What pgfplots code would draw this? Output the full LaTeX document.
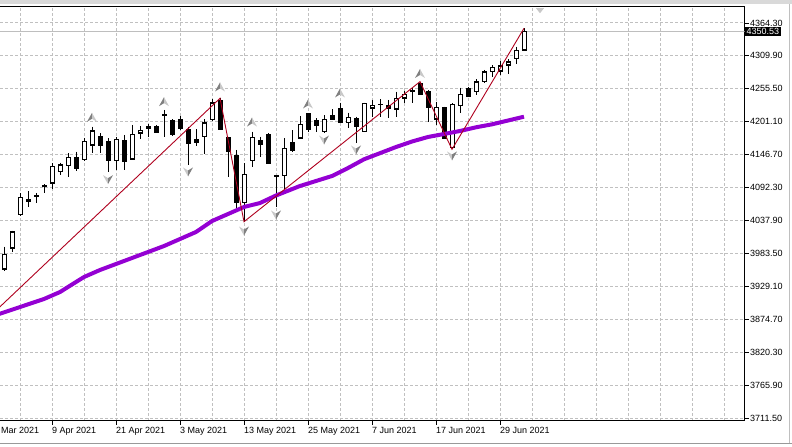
\documentclass[border=0pt]{standalone}
\usepackage{fontspec}
\setmainfont{Liberation Sans}
\usepackage{pgfplots}
\pgfplotsset{compat=1.18}
\usepackage{pgfplotstable}

\definecolor{gridgray}{RGB}{192,192,192}
\definecolor{mavio}{RGB}{148,0,211}
\definecolor{zzred}{RGB}{175,0,30}
\definecolor{fracdark}{RGB}{128,128,128}
\definecolor{fraclight}{RGB}{200,200,200}
\definecolor{bidgray}{RGB}{190,190,190}

\pgfdeclareplotmark{fup}{%
  \pgfpathmoveto{\pgfqpoint{0pt}{4.5pt}}%
  \pgfpathlineto{\pgfqpoint{-5pt}{-4.5pt}}%
  \pgfpathlineto{\pgfqpoint{0pt}{-1.5pt}}%
  \pgfpathclose
  \pgfsetfillcolor{fracdark}\pgfusepath{fill}%
  \pgfpathmoveto{\pgfqpoint{0pt}{4.5pt}}%
  \pgfpathlineto{\pgfqpoint{5pt}{-4.5pt}}%
  \pgfpathlineto{\pgfqpoint{0pt}{-1.5pt}}%
  \pgfpathclose
  \pgfsetfillcolor{fraclight}\pgfusepath{fill}%
}
\pgfdeclareplotmark{fdown}{%
  \pgfpathmoveto{\pgfqpoint{0pt}{-4.5pt}}%
  \pgfpathlineto{\pgfqpoint{-5pt}{4.5pt}}%
  \pgfpathlineto{\pgfqpoint{0pt}{1.5pt}}%
  \pgfpathclose
  \pgfsetfillcolor{fraclight}\pgfusepath{fill}%
  \pgfpathmoveto{\pgfqpoint{0pt}{-4.5pt}}%
  \pgfpathlineto{\pgfqpoint{5pt}{4.5pt}}%
  \pgfpathlineto{\pgfqpoint{0pt}{1.5pt}}%
  \pgfpathclose
  \pgfsetfillcolor{fracdark}\pgfusepath{fill}%
}
\pgfdeclareplotmark{shiftmark}{%
  \pgfpathmoveto{\pgfqpoint{-4pt}{2.5pt}}%
  \pgfpathlineto{\pgfqpoint{4pt}{2.5pt}}%
  \pgfpathlineto{\pgfqpoint{0pt}{-2.5pt}}%
  \pgfpathclose
  \pgfsetfillcolor{fraclight}\pgfusepath{fill}%
}

\pgfplotstableread{
i O H L C
0 3957.2 3994.6 3954.9 3982.5
1 3991.9 4021.0 3986.3 4019.4
2 4047.0 4082.8 4046.1 4076.2
3 4071.8 4086.6 4060.7 4069.0
4 4080.0 4082.8 4066.3 4077.2
5 4093.7 4097.7 4082.8 4094.9
6 4099.3 4132.4 4089.4 4127.9
7 4118.5 4133.4 4113.1 4129.6
8 4128.4 4148.9 4110.3 4142.3
9 4142.3 4151.6 4120.2 4124.1
10 4137.9 4173.7 4136.7 4169.2
11 4162.6 4192.9 4150.0 4185.8
12 4177.5 4182.0 4149.9 4162.6
13 4169.2 4173.7 4118.5 4136.7
14 4136.7 4175.4 4121.3 4172.1
15 4170.9 4179.2 4121.3 4135.0
16 4139.0 4195.7 4137.9 4180.8
17 4182.0 4194.0 4172.1 4187.4
18 4194.0 4196.8 4175.4 4189.6
19 4194.0 4195.7 4182.0 4183.0
20 4212.2 4220.5 4176.4 4212.6
21 4202.8 4205.1 4177.5 4180.3
22 4205.6 4210.6 4187.4 4189.6
23 4188.6 4192.9 4129.6 4165.4
24 4172.1 4188.6 4161.0 4166.4
25 4176.4 4205.1 4147.8 4199.5
26 4204.0 4238.2 4202.8 4232.5
27 4235.4 4239.8 4187.4 4188.6
28 4175.4 4176.4 4110.3 4151.6
29 4146.1 4154.4 4058.0 4067.3
30 4067.3 4132.4 4035.9 4114.2
31 4136.7 4184.6 4126.8 4175.4
32 4170.9 4176.4 4142.3 4163.8
33 4180.8 4182.0 4131.2 4132.4
34 4111.9 4113.1 4059.7 4111.6
35 4111.9 4173.7 4088.3 4157.2
36 4167.1 4187.4 4151.6 4153.2
37 4173.7 4210.6 4172.1 4196.8
38 4213.9 4215.0 4184.6 4188.6
39 4202.8 4206.8 4184.6 4194.5
40 4184.6 4212.2 4183.0 4205.1
41 4212.2 4221.6 4204.0 4205.1
42 4223.3 4232.5 4198.5 4199.5
43 4199.5 4216.0 4190.2 4208.4
44 4206.8 4209.4 4166.4 4192.9
45 4184.6 4232.5 4183.6 4231.5
46 4223.3 4237.0 4209.4 4228.7
47 4229.9 4238.2 4208.4 4230.1
48 4228.7 4237.0 4207.3 4223.3
49 4221.6 4250.7 4209.4 4239.8
50 4239.8 4252.4 4232.5 4246.9
51 4252.4 4256.3 4232.5 4252.6
52 4264.6 4267.3 4245.3 4246.4
53 4250.7 4253.5 4201.1 4225.0
54 4205.1 4234.2 4195.7 4225.0
55 4225.0 4226.0 4172.1 4173.7
56 4158.2 4231.5 4155.5 4229.9
57 4227.6 4257.3 4216.0 4246.4
58 4256.3 4258.0 4242.5 4242.5
59 4250.7 4271.2 4245.3 4267.3
60 4267.3 4286.6 4264.6 4283.8
61 4283.8 4294.8 4274.5 4291.0
62 4284.9 4301.5 4278.3 4293.2
63 4294.3 4304.3 4279.5 4300.3
64 4304.8 4325.1 4296.0 4319.6
65 4319.6 4355.5 4319.6 4350.53
}\candles

\pgfplotstableread{
i v
-1 3881.7
2 3894.9
5 3908.2
7 3919.7
8 3928.0
10 3944.5
12 3956.1
16 3975.9
20 3995.7
24 4018.9
26 4037.0
28 4048.6
30 4060.2
32 4066.8
34 4079.2
37 4094.9
41 4111.4
43 4124.6
45 4139.0
49 4159.3
51 4168.4
53 4175.9
55 4180.8
57 4185.8
59 4191.9
61 4196.8
63 4203.1
65 4209.4
}\mavals

\pgfplotstableread{
i v
-6 3826.5
27 4239.8
30 4035.9
52 4267.3
56 4155.5
65 4355.5
}\zigzag

\begin{document}
\begin{tikzpicture}[x=1pt,y=1pt]
\begin{axis}[
  scale only axis, width=744.5pt, height=414pt,
  xmin=-0.5, xmax=92.5625, ymin=3707.4, ymax=4391.5,
  clip mode=individual,
  separate axis lines,
  axis x line*=box, axis y line*=right,
  axis line style={black, line width=1pt},
  xtick pos=bottom, ytick pos=right,
  tick align=outside, major tick length=4pt, minor tick length=0pt,
  tick style={black, line width=0.8pt},
  xtick={6,14,22,30,38,46,54,62},
  xticklabels={9 Apr 2021, 21 Apr 2021, 3 May 2021, 13 May 2021, 25 May 2021, 7 Jun 2021, 17 Jun 2021, 29 Jun 2021},
  minor xtick={2,10,18,26,34,42,50,58,66,70,74,78,82,86,90},
  ytick={3711.5,3765.9,3820.3,3874.7,3929.1,3983.5,4037.9,4092.3,4146.7,4201.1,4255.5,4309.9,4364.3},
  grid=both,
  major grid style={gridgray, dash pattern=on 3pt off 2pt, line width=1pt},
  minor grid style={gridgray, dash pattern=on 3pt off 2pt, line width=1pt},
  xticklabel style={font=\fontsize{9}{10}\selectfont, anchor=north west, inner sep=0pt, yshift=-3pt},
  yticklabel style={font=\fontsize{9}{10}\selectfont, anchor=west, inner sep=0pt, xshift=1.5pt,
    /pgf/number format/.cd, fixed, fixed zerofill, precision=2, 1000 sep={}, assume math mode=true},
]
% bid line
\addplot[bidgray, line width=1pt] coordinates {(-0.5,4350.53) (92.5625,4350.53)};
% wicks
\addplot[draw=none, mark=none, error bars/.cd, y dir=minus, y explicit, error mark=none,
  error bar style={draw=black, solid, line width=1pt}]
  table[x=i, y=H, y error expr={\thisrow{H}-\thisrow{L}}] {\candles};
% bodies (black)
\addplot[draw=none, mark=none, error bars/.cd, y dir=minus, y explicit, error mark=none,
  error bar style={draw=black, solid, line width=5pt}]
  table[x=i, y expr={max(\thisrow{O},\thisrow{C})}, y error expr={abs(\thisrow{O}-\thisrow{C})}] {\candles};
% white interiors
\addplot[draw=none, mark=none, error bars/.cd, y dir=minus, y explicit, error mark=none,
  error bar style={draw=white, solid, line width=3pt}]
  table[x=i, y expr={max(\thisrow{O},\thisrow{C})-1.65}, y error expr={(\thisrow{C}>\thisrow{O})*max(0,\thisrow{C}-\thisrow{O}-3.3)}] {\candles};
% open / close edges
\addplot[only marks, mark=-, mark size=2.5pt, mark options={draw=black, line width=1pt}]
  table[x=i, y=O] {\candles};
\addplot[only marks, mark=-, mark size=2.5pt, mark options={draw=black, line width=1pt}]
  table[x=i, y=C] {\candles};
% moving average
\addplot[mavio, line width=4pt, line join=round] table[x=i, y=v] {\mavals};
% zigzag
\addplot[zzred, line width=0.9pt] table[x=i, y=v] {\zigzag};
% fractals
\addplot[only marks, mark=fup] coordinates {(11,4208.4) (20,4234.2) (27,4258.5) (31,4200.6) (38,4230.4) (42,4248.6) (52,4280.8)};
\addplot[only marks, mark=fdown] coordinates {(13,4105.4) (23,4118.1) (30,4020.5) (34,4047.0) (40,4170.9) (44,4154.4) (56,4144.5)};
% chart shift marker
\addplot[only marks, mark=shiftmark] coordinates {(67,4384.5)};
% labels
\node[fill=black, text=white, anchor=west, inner xsep=2pt, inner ysep=1.5pt, font=\fontsize{9}{10}\selectfont] at (axis cs:92.5625,4350.53) {4350.53};
\node[anchor=north west, inner sep=0pt, yshift=-7pt, font=\fontsize{9}{10}\selectfont] at (axis cs:-0.375,3707.4) {Mar 2021};
\coordinate (ll) at (rel axis cs:0,0);
\coordinate (ur) at (rel axis cs:1,1);
\end{axis}
\coordinate (BL) at ([yshift=-25.5pt]ll);
\coordinate (TR) at ([xshift=47.5pt,yshift=6.5pt]ur);
\coordinate (B1) at ([yshift=3pt]BL);
\coordinate (R1) at ([xshift=-2.5pt]TR);
\coordinate (T1) at ([yshift=-4pt]TR);
\pgfresetboundingbox
\useasboundingbox (BL) rectangle (TR);
\fill[gray!30] (BL |- TR) rectangle (T1);
\draw[gray!80, line width=1pt] (B1) -- (B1 -| TR);
\draw[gray!50, line width=0.8pt] (R1 |- B1) -- (R1 |- T1);
\end{tikzpicture}
\end{document}
